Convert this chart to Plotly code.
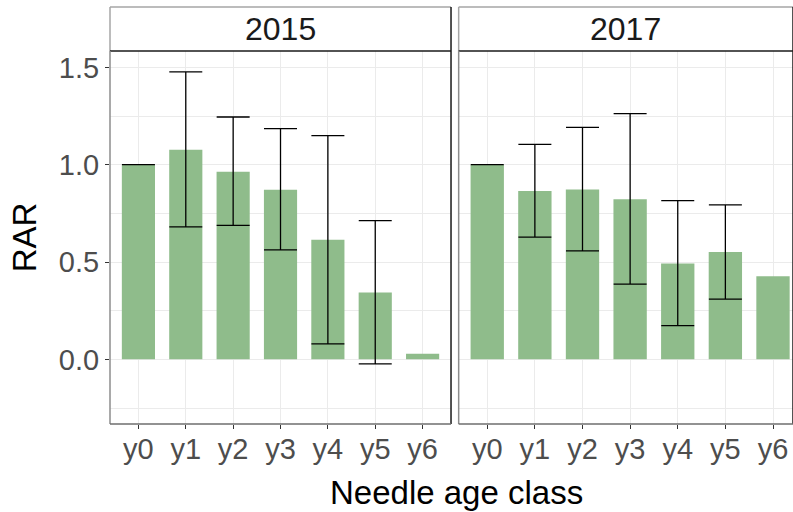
import plotly.graph_objects as go

# Needle age classes and facet years
classes = ["y0", "y1", "y2", "y3", "y4", "y5", "y6"]
years = ["2015", "2017"]

# Relative abundance ratio (RAR) per needle age class, with interval bounds
rar_2015 = [1.00, 1.077, 0.964, 0.871, 0.614, 0.343, 0.029]
lower_2015 = [1.00, 0.681, 0.688, 0.562, 0.080, -0.023, None]
upper_2015 = [1.00, 1.477, 1.245, 1.185, 1.149, 0.713, None]

rar_2017 = [1.00, 0.865, 0.873, 0.823, 0.492, 0.551, 0.427]
lower_2017 = [1.00, 0.628, 0.557, 0.386, 0.173, 0.309, None]
upper_2017 = [1.00, 1.104, 1.192, 1.262, 0.815, 0.794, None]

y_ticks = [0.0, 0.5, 1.0, 1.5]
y_tick_text = ["0.0", "0.5", "1.0", "1.5"]

BAR_COLOR = "rgb(143,188,139)"
GRID = "#EBEBEB"
TICK_FONT = dict(family="Liberation Sans, Arial, sans-serif", size=29, color="#4D4D4D")
TITLE_FONT = dict(family="Liberation Sans, Arial, sans-serif", size=33, color="#000000")
STRIP_FONT = dict(family="Liberation Sans, Arial, sans-serif", size=32, color="#1A1A1A")

W, H = 793, 512
M_L, M_R, M_T, M_B = 110, 0, 51, 88
plot_w = W - M_L - M_R
plot_h = H - M_T - M_B
dom1 = [0.0, 0.4993]
dom2 = [0.5105, 1.0]

fig = go.Figure()

panels = [
    (rar_2015, lower_2015, upper_2015, "x", "y"),
    (rar_2017, lower_2017, upper_2017, "x2", "y2"),
]

for vals, lo, hi, xa, ya in panels:
    fig.add_trace(go.Bar(
        x=classes, y=vals, width=0.7,
        marker=dict(color=BAR_COLOR, line=dict(width=0)),
        xaxis=xa, yaxis=ya, showlegend=False,
    ))
    idx = [i for i in range(len(classes)) if lo[i] is not None]
    fig.add_trace(go.Scatter(
        x=[classes[i] for i in idx],
        y=[vals[i] for i in idx],
        mode="markers",
        marker=dict(size=1, opacity=0),
        error_y=dict(
            type="data", symmetric=False,
            array=[hi[i] - vals[i] for i in idx],
            arrayminus=[vals[i] - lo[i] for i in idx],
            color="#000000", thickness=1.3, width=16.5,
        ),
        xaxis=xa, yaxis=ya, showlegend=False, hoverinfo="skip",
    ))

y_range = [-0.332, 1.584]

common_x = dict(
    type="category", categoryorder="array", categoryarray=classes,
    showgrid=True, gridcolor=GRID, gridwidth=1,
    ticks="outside", ticklen=4, tickcolor="#333333", tickwidth=1,
    tickfont=TICK_FONT, ticklabelstandoff=-5, showline=False, zeroline=False,
)
common_y = dict(
    range=y_range, tickvals=y_ticks, ticktext=y_tick_text,
    showgrid=True, gridcolor=GRID, gridwidth=1,
    minor=dict(dtick=0.25, tick0=0, showgrid=True, gridcolor=GRID, gridwidth=0.8),
    zeroline=False, showline=False,
)

fig.update_layout(
    width=W, height=H,
    margin=dict(l=M_L, r=M_R, t=M_T, b=M_B, pad=0),
    paper_bgcolor="white", plot_bgcolor="white",
    bargap=0.3,
    xaxis=dict(domain=dom1, range=[-0.6, 6.6], anchor="y", **common_x),
    xaxis2=dict(domain=dom2, range=[-0.6, 6.42], anchor="y2", **common_x),
    yaxis=dict(domain=[0, 1], anchor="x", ticks="outside", ticklen=4,
               tickcolor="#333333", tickfont=TICK_FONT,
               title=dict(text="RAR", font=TITLE_FONT, standoff=12), **common_y),
    yaxis2=dict(domain=[0, 1], anchor="x2", matches="y", showticklabels=False,
                ticks="", **common_y),
)

# Facet strips and panel borders
strip_top = 1 + 44 / plot_h
shapes = []
annotations = []
for (d0, d1), label in zip([dom1, dom2], years):
    shapes += [
        dict(type="rect", xref="paper", yref="paper", x0=d0, x1=d1, y0=1, y1=strip_top,
             fillcolor="white", line=dict(width=0), layer="below"),
        dict(type="line", xref="paper", yref="paper", x0=d0, x1=d1, y0=strip_top, y1=strip_top,
             line=dict(color="#A6A6A6", width=1.5)),
        dict(type="line", xref="paper", yref="paper", x0=d0, x1=d0, y0=1, y1=strip_top,
             line=dict(color="#A6A6A6", width=1.5)),
        dict(type="line", xref="paper", yref="paper", x0=d1, x1=d1, y0=1, y1=strip_top,
             line=dict(color="#1A1A1A", width=1.5)),
        dict(type="line", xref="paper", yref="paper", x0=d0, x1=d1, y0=1, y1=1,
             line=dict(color="#1A1A1A", width=1.5)),
        dict(type="line", xref="paper", yref="paper", x0=d0, x1=d0, y0=0, y1=1,
             line=dict(color="#8C8C8C", width=1.5)),
        dict(type="line", xref="paper", yref="paper", x0=d1, x1=d1, y0=0, y1=1,
             line=dict(color="#1A1A1A", width=1.5)),
        dict(type="line", xref="paper", yref="paper", x0=d0, x1=d1, y0=0, y1=0,
             line=dict(color="#6E6E6E", width=1.5)),
    ]
    annotations.append(dict(
        text=label, xref="paper", yref="paper", x=(d0 + d1) / 2, y=(1 + strip_top) / 2,
        xanchor="center", yanchor="middle", showarrow=False, font=STRIP_FONT,
    ))

# Shared x-axis title centred under both panels
annotations.append(dict(
    text="Needle age class", xref="paper", yref="paper",
    x=(456 - M_L) / plot_w,
    y=-(492 - (H - M_B)) / plot_h,
    xanchor="center", yanchor="middle", showarrow=False, font=TITLE_FONT,
))

fig.update_layout(shapes=shapes, annotations=annotations)

fig.write_html("out.html")
